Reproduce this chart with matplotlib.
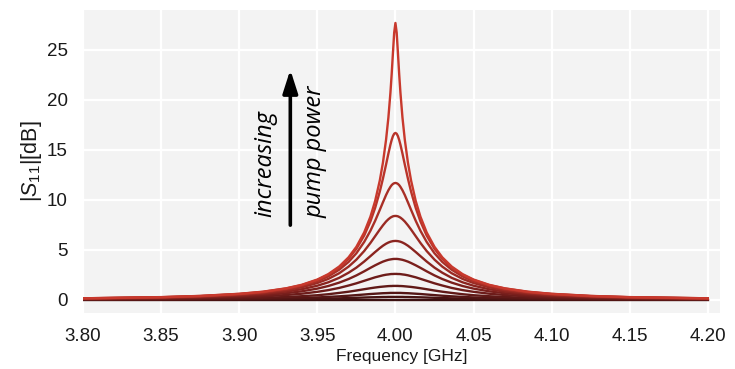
import numpy as np
import matplotlib.pyplot as plt
from matplotlib.colors import LinearSegmentedColormap

plt.rcParams['font.family'] = ['Liberation Sans', 'DejaVu Sans']
plt.rcParams['mathtext.fontset'] = 'custom'
plt.rcParams['mathtext.rm'] = 'Liberation Sans'
plt.rcParams['mathtext.it'] = 'Liberation Sans:italic'

# resonance centre and distance from it (GHz); each curve is symmetric about the centre
center_ghz = 4.00
offset_ghz = [0, 0.0008, 0.0016, 0.0024, 0.0032, 0.0045, 0.006, 0.008, 0.010, 0.013,
              0.016, 0.020, 0.025, 0.030, 0.036, 0.043, 0.050, 0.060, 0.070, 0.085,
              0.100, 0.125, 0.150, 0.200]

# |S11| in dB, lowest pump power first
s11_p0 = [0.0] * 24
s11_p1 = [0.30, 0.30, 0.30, 0.30, 0.30, 0.30, 0.29, 0.29, 0.28, 0.27, 0.26, 0.24,
          0.21, 0.19, 0.16, 0.13, 0.11, 0.09, 0.07, 0.05, 0.04, 0.03, 0.02, 0.01]
s11_p2 = [0.70, 0.70, 0.70, 0.70, 0.70, 0.69, 0.68, 0.67, 0.65, 0.62, 0.59, 0.54,
          0.48, 0.42, 0.36, 0.30, 0.25, 0.20, 0.15, 0.11, 0.09, 0.06, 0.04, 0.02]
s11_p3 = [1.40, 1.40, 1.40, 1.39, 1.39, 1.38, 1.36, 1.33, 1.30, 1.24, 1.17, 1.07,
          0.94, 0.82, 0.70, 0.57, 0.47, 0.37, 0.29, 0.21, 0.16, 0.11, 0.08, 0.04]
s11_p4 = [2.60, 2.60, 2.59, 2.59, 2.58, 2.55, 2.52, 2.46, 2.38, 2.26, 2.11, 1.91,
          1.66, 1.44, 1.20, 0.98, 0.81, 0.62, 0.49, 0.35, 0.26, 0.18, 0.12, 0.07]
s11_p5 = [4.10, 4.10, 4.09, 4.07, 4.05, 4.01, 3.94, 3.83, 3.69, 3.46, 3.21, 2.86,
          2.45, 2.09, 1.73, 1.39, 1.13, 0.86, 0.67, 0.48, 0.36, 0.24, 0.17, 0.10]
s11_p6 = [5.90, 5.89, 5.88, 5.85, 5.82, 5.74, 5.62, 5.42, 5.18, 4.79, 4.38, 3.84,
          3.23, 2.72, 2.21, 1.76, 1.42, 1.07, 0.83, 0.60, 0.44, 0.29, 0.21, 0.12]
s11_p7 = [8.40, 8.39, 8.36, 8.30, 8.23, 8.07, 7.84, 7.46, 7.04, 6.37, 5.70, 4.89,
          4.03, 3.33, 2.67, 2.10, 1.69, 1.26, 0.97, 0.69, 0.52, 0.34, 0.24, 0.14]
s11_p8 = [11.70, 11.67, 11.60, 11.48, 11.31, 10.97, 10.49, 9.76, 9.01, 7.91, 6.92, 5.80,
          4.67, 3.80, 3.02, 2.35, 1.87, 1.40, 1.07, 0.76, 0.57, 0.37, 0.26, 0.15]
s11_p9 = [16.70, 16.62, 16.38, 16.00, 15.53, 14.64, 13.54, 12.13, 10.84, 9.20, 7.86, 6.44,
          5.11, 4.12, 3.24, 2.51, 1.99, 1.48, 1.14, 0.80, 0.60, 0.39, 0.27, 0.16]
s11_p10 = [27.70, 26.73, 24.69, 22.59, 20.73, 18.25, 16.02, 13.73, 11.95, 9.89, 8.33, 6.75,
           5.31, 4.26, 3.34, 2.58, 2.04, 1.51, 1.16, 0.82, 0.61, 0.40, 0.28, 0.16]

curves = [s11_p0, s11_p1, s11_p2, s11_p3, s11_p4, s11_p5,
          s11_p6, s11_p7, s11_p8, s11_p9, s11_p10]

x_ticks = [3.80, 3.85, 3.90, 3.95, 4.00, 4.05, 4.10, 4.15, 4.20]
y_ticks = [0, 5, 10, 15, 20, 25]

off = np.array(offset_ghz)
freq = np.concatenate([center_ghz - off[::-1], center_ghz + off[1:]])

cmap = LinearSegmentedColormap.from_list('pump', ['#3a1010', '#7a1f1c', '#c8392d'])

fig = plt.figure(figsize=(7.35, 3.69), dpi=100)
ax = fig.add_axes([0.113, 0.152, 0.867, 0.821])
ax.set_facecolor('#f3f3f3')

for i, c in enumerate(curves):
    c = np.array(c)
    vals = np.concatenate([c[::-1], c[1:]])
    ax.plot(freq, vals, color=cmap(i / (len(curves) - 1)), lw=1.7,
            solid_joinstyle='round', zorder=3 + i)

ax.set_xlim(3.80, 4.208)
ax.set_ylim(-1.3, 29.0)
ax.set_xticks(x_ticks)
ax.set_xticklabels([f'{t:.2f}' for t in x_ticks])
ax.set_yticks(y_ticks)
ax.grid(True, color='white', lw=1.6)
ax.set_axisbelow(True)
for s in ax.spines.values():
    s.set_visible(False)
ax.tick_params(length=0, labelsize=13.5, pad=11, colors='#1a1a1a')

ax.set_xlabel('Frequency [GHz]', fontsize=12.5, labelpad=3, color='#1a1a1a')
ax.set_ylabel(r'$|S_{11}|$[dB]', fontsize=15.5, labelpad=2, color='#1a1a1a')

# pump power annotation
ax.annotate('', xy=(3.9327, 23.3), xytext=(3.9327, 7.2),
            arrowprops=dict(arrowstyle='-|>,head_length=1.4,head_width=0.45',
                            color='black', lw=2.6))
ax.text(3.9170, 13.6, 'increasing', rotation=90, ha='center', va='center',
        fontsize=17, style='italic', family='Open Sans')
ax.text(3.9490, 14.8, 'pump power', rotation=90, ha='center', va='center',
        fontsize=17, style='italic', family='Open Sans')

fig.savefig('out.png', dpi=100)
